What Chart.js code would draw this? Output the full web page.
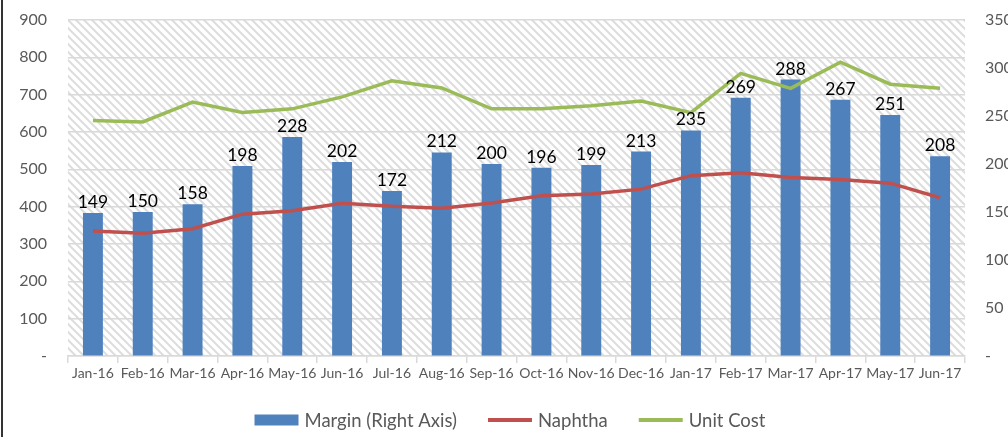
<!DOCTYPE html>
<html>
<head>
<meta charset="utf-8">
<script src="https://cdn.jsdelivr.net/npm/chart.js@4/dist/chart.umd.min.js"></script>
<style>
  html, body { margin: 0; padding: 0; background: #fff; }
  #wrap { width: 1008px; height: 437px; }
</style>
</head>
<body>
<div id="wrap"><canvas id="chart" width="1008" height="437"></canvas></div>
<script>
// data
const months = ['Jan-16', 'Feb-16', 'Mar-16', 'Apr-16', 'May-16', 'Jun-16', 'Jul-16', 'Aug-16', 'Sep-16',
                'Oct-16', 'Nov-16', 'Dec-16', 'Jan-17', 'Feb-17', 'Mar-17', 'Apr-17', 'May-17', 'Jun-17'];
const margin   = [149, 150, 158, 198, 228, 202, 172, 212, 200, 196, 199, 213, 235, 269, 288, 267, 251, 208];
const naphtha  = [335, 329, 341, 380, 389, 409, 401, 396, 410, 429, 434, 447, 483, 491, 478, 473, 463, 424];
const unitCost = [631, 627, 680, 652, 662, 694, 737, 718, 662, 662, 670, 683, 652, 757, 717, 787, 728, 717];

const FONT = 'Lato, "Open Sans", sans-serif';
const GREY = '#595959';

// diagonal hatch for the plot area
function makeHatch() {
    const c = document.createElement('canvas');
    c.width = 8; c.height = 8;
    const g = c.getContext('2d');
    g.strokeStyle = '#dddddd';
    g.lineWidth = 2;
    g.beginPath();
    g.moveTo(-1, -1); g.lineTo(9, 9);
    g.moveTo(-5, 3); g.lineTo(5, 13);
    g.moveTo(3, -5); g.lineTo(13, 5);
    g.stroke();
    return c;
}

const backdrop = {
    id: 'backdrop',
    beforeDraw(chart) {
        const ctx = chart.ctx;
        const a = chart.chartArea;
        ctx.save();
        ctx.fillStyle = '#fff';
        ctx.fillRect(0, 0, chart.width, chart.height);
        ctx.fillStyle = ctx.createPattern(makeHatch(), 'repeat');
        ctx.fillRect(a.left, a.top, a.right - a.left, a.bottom - a.top);
        ctx.restore();
    },
    afterDraw(chart) {
        // frame line on the left edge
        const ctx = chart.ctx;
        ctx.save();
        ctx.fillStyle = '#333333';
        ctx.fillRect(1, 0, 2, chart.height);
        ctx.restore();
    }
};

// value labels above the bars
const barLabels = {
    id: 'barLabels',
    afterDatasetsDraw(chart) {
        const ctx = chart.ctx;
        const meta = chart.getDatasetMeta(0);
        ctx.save();
        ctx.font = '17.5px ' + FONT;
        ctx.fillStyle = '#000';
        ctx.textAlign = 'center';
        ctx.textBaseline = 'alphabetic';
        meta.data.forEach((bar, i) => {
            ctx.fillText(String(margin[i]), bar.x, bar.y - 5);
        });
        ctx.restore();
    }
};

// legend row under the axis, spaced like the original
const legendRow = {
    id: 'legendRow',
    afterDraw(chart) {
        const ctx = chart.ctx;
        ctx.save();
        ctx.font = '18.5px ' + FONT;
        const keyW = 44, gap = 6, space = 31;
        const items = chart.data.datasets.map(ds => ({
            text: ds.label,
            bar: ds.type === 'bar',
            color: ds.type === 'bar' ? ds.backgroundColor : ds.borderColor,
            w: ctx.measureText(ds.label).width
        }));
        const total = items.reduce((s, it) => s + keyW + gap + it.w, 0) + space * (items.length - 1);
        let x = 510 - total / 2;
        const y = 420;
        ctx.textBaseline = 'middle';
        ctx.textAlign = 'left';
        items.forEach(it => {
            if (it.bar) {
                ctx.fillStyle = it.color;
                ctx.fillRect(x, y - 5.5, keyW, 11);
            } else {
                ctx.strokeStyle = it.color;
                ctx.lineWidth = 4;
                ctx.beginPath();
                ctx.moveTo(x, y);
                ctx.lineTo(x + keyW, y);
                ctx.stroke();
            }
            ctx.fillStyle = GREY;
            ctx.fillText(it.text, x + keyW + gap, y + 1);
            x += keyW + gap + it.w + space;
        });
        ctx.restore();
    }
};

new Chart(document.getElementById('chart'), {
    type: 'bar',
    data: {
        labels: months,
        datasets: [
            {
                type: 'bar',
                label: 'Margin (Right Axis)',
                data: margin,
                yAxisID: 'yRight',
                backgroundColor: '#4f81bd',
                borderWidth: 0,
                barPercentage: 0.4,
                categoryPercentage: 1,
                order: 3
            },
            {
                type: 'line',
                label: 'Naphtha',
                data: naphtha,
                yAxisID: 'yLeft',
                borderColor: '#c0504d',
                backgroundColor: '#c0504d',
                borderWidth: 3.5,
                pointRadius: 0,
                tension: 0,
                order: 2
            },
            {
                type: 'line',
                label: 'Unit Cost',
                data: unitCost,
                yAxisID: 'yLeft',
                borderColor: '#9bbb59',
                backgroundColor: '#9bbb59',
                borderWidth: 3.5,
                pointRadius: 0,
                tension: 0,
                order: 1
            }
        ]
    },
    options: {
        responsive: false,
        animation: false,
        layout: { padding: { top: 20, left: 0, right: 0, bottom: 0 } },
        plugins: {
            tooltip: { enabled: false },
            legend: { display: false }
        },
        scales: {
            x: {
                offset: true,
                grid: {
                    offset: true,
                    drawOnChartArea: false,
                    drawTicks: true,
                    tickLength: 7,
                    color: '#d9d9d9',
                    lineWidth: 1.5
                },
                border: { display: true, color: '#d9d9d9', width: 1.5 },
                ticks: {
                    font: { family: FONT, size: 14 },
                    color: GREY,
                    maxRotation: 0,
                    autoSkip: false,
                    padding: 2
                },
                afterFit(scale) { scale.height = 81; }
            },
            yLeft: {
                position: 'left',
                min: 0,
                max: 900,
                ticks: {
                    stepSize: 100,
                    font: { family: FONT, size: 16 },
                    color: GREY,
                    padding: 0,
                    callback: v => v === 0 ? '-' : v
                },
                grid: { color: '#d9d9d9', lineWidth: 1.5, drawTicks: true, tickLength: 21, tickColor: 'rgba(0,0,0,0)' },
                border: { display: false },
                afterFit(scale) { scale.width = 68; }
            },
            yRight: {
                position: 'right',
                min: 0,
                max: 350,
                ticks: {
                    stepSize: 50,
                    font: { family: FONT, size: 16 },
                    color: GREY,
                    padding: 0,
                    callback: v => v === 0 ? '-' : v
                },
                grid: { drawOnChartArea: false, drawTicks: true, tickLength: 20, tickColor: 'rgba(0,0,0,0)' },
                border: { display: false },
                afterFit(scale) { scale.width = 43; }
            }
        }
    },
    plugins: [backdrop, barLabels, legendRow]
});
</script>
</body>
</html>
